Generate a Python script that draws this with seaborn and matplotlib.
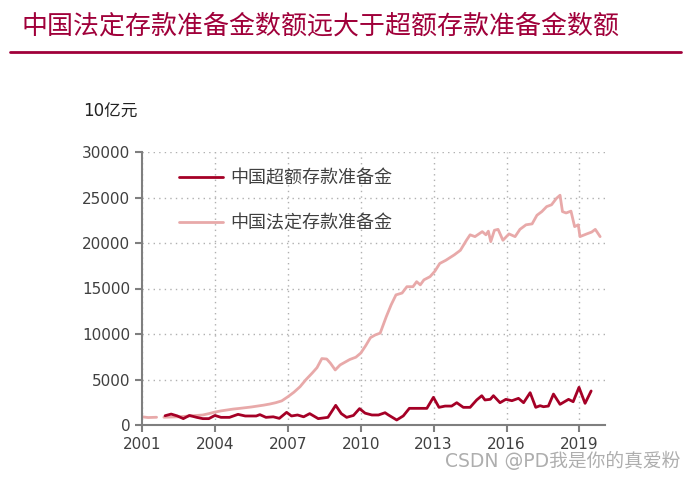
import numpy as np
import pandas as pd
import matplotlib
matplotlib.use("Agg")
import matplotlib.pyplot as plt
import seaborn as sns
from matplotlib.lines import Line2D

# 法定存款准备金 (pink), first short segment then main series
req_years_a = [2001.0, 2001.25, 2001.6]
req_vals_a = [900, 820, 850]
req_years = [2001.9, 2002.25, 2002.5, 2002.75, 2003.0, 2003.25, 2003.5, 2003.75, 2004.0, 2004.25,
             2004.5, 2004.75, 2005.0, 2005.25, 2005.5, 2005.75, 2006.0, 2006.25, 2006.5, 2006.75,
             2007.0, 2007.25, 2007.5, 2007.75, 2008.0, 2008.2, 2008.4, 2008.6, 2008.75, 2008.95,
             2009.15, 2009.35, 2009.55, 2009.8, 2010.0, 2010.2, 2010.4, 2010.6, 2010.8, 2011.05,
             2011.25, 2011.45, 2011.7, 2011.9, 2012.15, 2012.3, 2012.45, 2012.6, 2012.85, 2013.05,
             2013.25, 2013.5, 2013.85, 2014.1, 2014.35, 2014.5, 2014.7, 2015.0, 2015.15, 2015.25,
             2015.35, 2015.5, 2015.65, 2015.85, 2016.1, 2016.35, 2016.55, 2016.8, 2017.05, 2017.25,
             2017.45, 2017.65, 2017.85, 2018.05, 2018.2, 2018.3, 2018.45, 2018.65, 2018.8, 2018.95,
             2019.02, 2019.3, 2019.5, 2019.65, 2019.85]
req_vals = [850, 880, 900, 950, 1000, 1050, 1100, 1250, 1420, 1550,
            1650, 1750, 1820, 1900, 1980, 2080, 2180, 2300, 2450, 2650,
            3100, 3600, 4200, 5000, 5700, 6300, 7300, 7250, 6800, 6050,
            6600, 6900, 7200, 7450, 7900, 8700, 9600, 9900, 10100, 11900,
            13200, 14300, 14500, 15200, 15200, 15750, 15400, 15950, 16300, 16900,
            17750, 18100, 18700, 19200, 20300, 20900, 20700, 21250, 20900, 21300,
            20150, 21400, 21500, 20300, 21000, 20700, 21500, 22000, 22100, 23050,
            23450, 24000, 24200, 24900, 25250, 23450, 23300, 23500, 21800, 22000,
            20700, 21000, 21200, 21500, 20700]

# 超额存款准备金 (dark red)
exc_years = [2001.95, 2002.2, 2002.45, 2002.7, 2002.95, 2003.25, 2003.5, 2003.75, 2004.0, 2004.25,
             2004.6, 2004.95, 2005.25, 2005.7, 2005.85, 2006.1, 2006.4, 2006.65, 2006.95, 2007.15,
             2007.4, 2007.65, 2007.9, 2008.25, 2008.65, 2008.97, 2009.2, 2009.42, 2009.7, 2009.95,
             2010.18, 2010.46, 2010.73, 2011.0, 2011.14, 2011.48, 2011.75, 2012.0, 2012.72, 2012.99,
             2013.22, 2013.47, 2013.74, 2013.95, 2014.22, 2014.5, 2014.77, 2014.98, 2015.11, 2015.33,
             2015.46, 2015.73, 2015.97, 2016.22, 2016.49, 2016.7, 2016.97, 2017.2, 2017.38, 2017.52,
             2017.72, 2017.93, 2018.2, 2018.55, 2018.74, 2018.98, 2019.23, 2019.48]
exc_vals = [1020, 1200, 1000, 700, 1050, 840, 700, 700, 1050, 840,
            840, 1170, 990, 990, 1140, 840, 900, 730, 1390, 990,
            1100, 900, 1250, 700, 840, 2160, 1250, 840, 1050, 1800,
            1300, 1100, 1100, 1350, 1100, 550, 1000, 1830, 1830, 3040,
            1940, 2080, 2080, 2450, 1940, 1940, 2750, 3220, 2750, 2820,
            3220, 2450, 2820, 2670, 2930, 2450, 3550, 1940, 2120, 2010,
            2080, 3400, 2270, 2820, 2560, 4140, 2380, 3740]

xticks = [2001, 2004, 2007, 2010, 2013, 2016, 2019]
yticks = [0, 5000, 10000, 15000, 20000, 25000, 30000]

dark = "#A50026"
pink = "#E8A9A9"
title_col = "#A0003A"
grey_txt = "#404040"

sns.set_style("ticks")
plt.rcParams['font.family'] = ['DejaVu Sans', 'Noto Sans CJK SC']

fig = plt.figure(figsize=(6.95, 4.8), dpi=100)
ax = fig.add_axes([142 / 695, 55 / 480, 463 / 695, 273 / 480])

df_a = pd.DataFrame({"year": req_years_a, "value": req_vals_a})
df_req = pd.DataFrame({"year": req_years, "value": req_vals})
df_exc = pd.DataFrame({"year": exc_years, "value": exc_vals})

sns.lineplot(data=df_exc, x="year", y="value", ax=ax, color=dark, lw=2, label="中国超额存款准备金")
sns.lineplot(data=df_req, x="year", y="value", ax=ax, color=pink, lw=2, label="中国法定存款准备金")
sns.lineplot(data=df_a, x="year", y="value", ax=ax, color=pink, lw=2, legend=False)
ax.lines[0].set_zorder(3)

ax.set_xlim(2001, 2020.05)
ax.set_ylim(0, 30000)
ax.set_xticks(xticks)
ax.set_yticks(yticks)
ax.set_xlabel("")
ax.set_ylabel("")
ax.grid(True, linestyle=(0, (1, 3)), color="#b0b0b0", lw=1)
for s in ["top", "right"]:
    ax.spines[s].set_visible(False)
for s in ["left", "bottom"]:
    ax.spines[s].set_color("#7f7f7f")
    ax.spines[s].set_linewidth(1.5)
ax.tick_params(axis="both", colors="#7f7f7f", labelcolor=grey_txt, labelsize=11,
               length=5, width=1.5, direction="out")

leg = ax.legend(loc="upper left", bbox_to_anchor=(0.045, 0.995), frameon=False,
                fontsize=13, handlelength=2.45, labelspacing=1.5, handletextpad=0.4)
for t in leg.get_texts():
    t.set_color(grey_txt)

fig.text(22 / 695, 1 - 27 / 480, "中国法定存款准备金数额远大于超额存款准备金数额",
         fontsize=18.7, color=title_col, va="center", ha="left")
fig.add_artist(Line2D([10 / 695, 681 / 695], [1 - 52 / 480, 1 - 52 / 480],
                      color=title_col, lw=2, transform=fig.transFigure))
fig.text(83 / 695, 1 - 112 / 480, "10亿元", fontsize=12, color="#222222", va="center", ha="left")
fig.text(445 / 695, 1 - 461 / 480, "CSDN @PD我是你的真爱粉", fontsize=13.5,
         color="#9a9a9a", alpha=0.8, va="center", ha="left")

fig.savefig("out.png", dpi=100)
